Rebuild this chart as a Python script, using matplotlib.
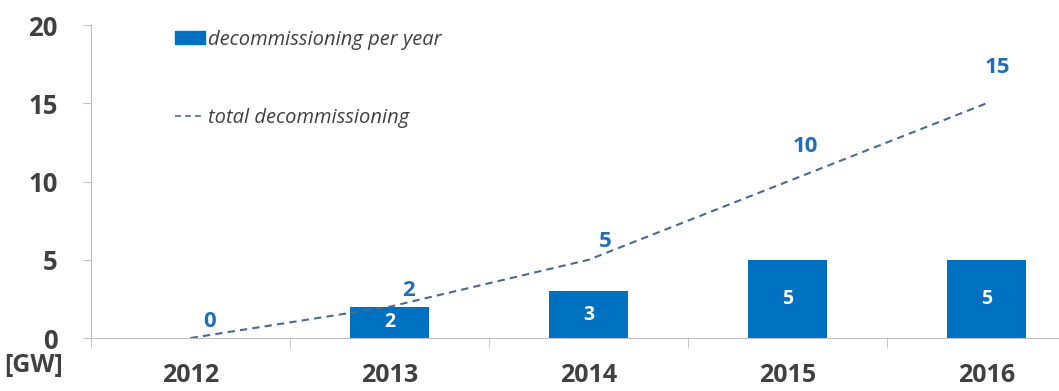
import matplotlib
matplotlib.use("Agg")
import matplotlib.pyplot as plt
from matplotlib.lines import Line2D
from matplotlib.patches import Patch

years = ["2012", "2013", "2014", "2015", "2016"]
per_year = [0, 2, 3, 5, 5]
total = [0, 2, 5, 10, 15]
yticks = [0, 5, 10, 15, 20]

BLUE = "#0070c0"
LABEL_BLUE = "#1f6fb8"
LINE = "#4a6a8e"
GRAY = "#404040"
AXIS = "#bfbfbf"
DASH = (0, (3.5, 2.5))

plt.rcParams["font.family"] = ["Open Sans", "DejaVu Sans"]

fig = plt.figure(figsize=(10.59, 3.91), dpi=100)
ax = fig.add_axes([0.086, 0.1355, 0.9396, 0.8005])

x = list(range(len(years)))
ax.bar(x[1:], per_year[1:], width=0.4, color=BLUE, zorder=2)
for xi, v in zip(x[1:], per_year[1:]):
    ax.text(xi, v / 2, str(v), ha="center", va="center", color="white",
            fontsize=14, fontweight="bold", zorder=3)

ax.plot(x, total, ls=DASH, color=LINE, lw=1.5, zorder=3)
# label offsets (points) above each cumulative value
offsets = [(14, 12), (13.5, 12), (12, 13), (13, 25), (8, 26)]
for xi, v, off in zip(x, total, offsets):
    ax.annotate(str(v), (xi, v), xytext=off, textcoords="offset points",
                ha="center", va="center", color=LABEL_BLUE,
                fontsize=16, fontweight="bold")

ax.set_xlim(-0.5, 4.5)
ax.set_ylim(0, 20)
ax.set_yticks(yticks)
ax.set_yticklabels([str(t) for t in yticks], fontsize=18.5, fontweight="bold", color=GRAY)
ax.tick_params(axis="y", length=6, color=AXIS, pad=18)

ax.set_xticks(x)
ax.set_xticklabels(years, fontsize=18, fontweight="bold", color=GRAY)
ax.tick_params(axis="x", which="major", length=0, pad=18)
ax.set_xticks([i - 0.5 for i in range(len(years) + 1)], minor=True)
ax.tick_params(axis="x", which="minor", length=7, color=AXIS)

for side in ["top", "right"]:
    ax.spines[side].set_visible(False)
for side in ["left", "bottom"]:
    ax.spines[side].set_color(AXIS)

fig.text(0.004, 0.066, "[GW]", fontsize=18, fontweight="bold", color=GRAY,
         ha="left", va="center")

handles = [Patch(facecolor=BLUE, edgecolor=BLUE),
           Line2D([0], [0], ls=DASH, color=LINE, lw=1.2)]
ax.legend(handles, ["decommissioning per year", "total decommissioning"],
          loc="upper left", bbox_to_anchor=(0.084, 0.985), frameon=False,
          prop={"style": "italic", "size": 14.5}, labelcolor=GRAY,
          borderpad=0, borderaxespad=0,
          labelspacing=2.9, handlelength=1.5, handleheight=0.65, handletextpad=0.15)

fig.savefig("out.png", dpi=100)
